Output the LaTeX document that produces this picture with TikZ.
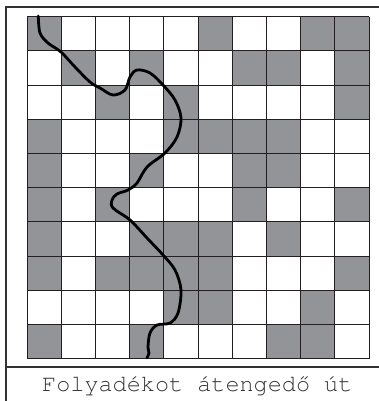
\documentclass[tikz,border=0pt]{standalone}
\usepackage{fontspec}
\newfontfamily\monofnt{TeX Gyre Cursor}
\definecolor{cellgray}{RGB}{146,148,151}
\definecolor{gridline}{RGB}{35,31,32}
\definecolor{framecol}{RGB}{50,50,50}
\begin{document}
\begin{tikzpicture}[x=1pt,y=-1pt,
  cellfill/.style={fill=cellgray},
  gridstyle/.style={draw=gridline,line width=1pt},
  framestyle/.style={draw=framecol,line width=1.3pt},
  pathline/.style={draw=black,line width=2.8pt,line cap=round,line join=round}]
\useasboundingbox (0,0) rectangle (378,401);
\def\ox{27}\def\oy{16.7}\def\cs{34.2}
% gray cells: row / list of columns
\foreach \r/\cols in {0/{0,5,8,9},1/{1,3,6,7,9},2/{2,4,9},3/{0,4,5,6,7},4/{0,3,6,7},5/{0,2,6,9},6/{0,3,4,5,7},7/{0,2,3,4,5,9},8/{4,5,8},9/{0,3,7,8}}{
  \foreach \c in \cols {
    \fill[cellfill] (\ox+\c*\cs,\oy+\r*\cs) rectangle (\ox+\c*\cs+\cs,\oy+\r*\cs+\cs);
  }
}
\foreach \i in {0,...,10}{
  \draw[gridstyle] (\ox+\i*\cs,\oy) -- (\ox+\i*\cs,\oy+10*\cs);
  \draw[gridstyle] (\ox,\oy+\i*\cs) -- (\ox+10*\cs,\oy+\i*\cs);
}
% frame
\draw[framestyle] (6,402) -- (6,7) -- (379,7);
\draw[framestyle] (6,367) -- (379,367);
% path through the gray cells
\draw[pathline] plot[smooth,tension=0.55] coordinates {
 (38.3,16) (40,33) (48,43) (61,52) (75,67) (90,82) (100,88) (113,95) (125,90)
 (130,77) (137,70) (150,73) (163,85) (175,100) (181,118) (177,137) (165,153)
 (147,167) (137,183) (128,190) (117,194) (112,200) (113,208) (130,220) (147,238)
 (163,255) (175,270) (181,290) (178,313) (170,323) (157,325) (150,333) (148,347)
 (149,353) (147,358)};
\node[anchor=base west,inner sep=0pt,text=framecol,font=\monofnt\fontsize{23.5}{28}\selectfont] (caption) at (42,391) {Folyadékot átengedő út};
\end{tikzpicture}
\end{document}
